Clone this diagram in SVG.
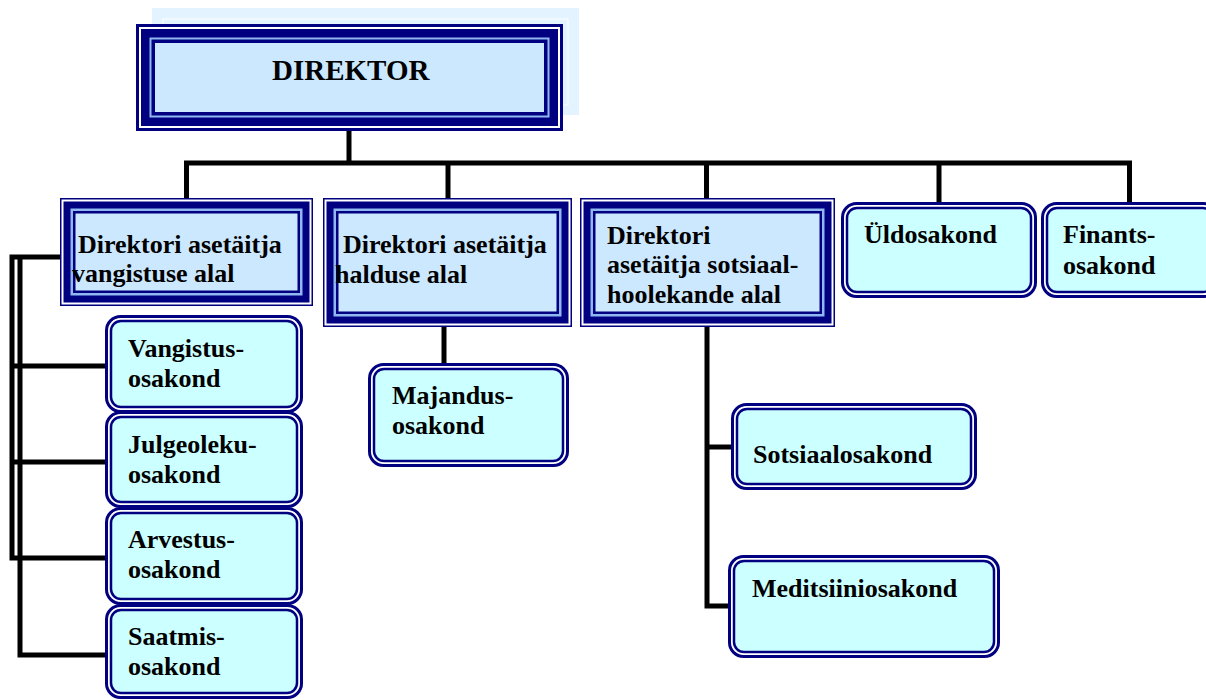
<svg xmlns="http://www.w3.org/2000/svg" width="1206" height="700" viewBox="0 0 1206 700">
<style>
.n{fill:#000080}.w{fill:#ffffff}.l{fill:#8fb8f0}.f{fill:#cce8ff}
.ro{fill:#ffffff;stroke:#000080;stroke-width:3}
.ri{fill:#ccffff;stroke:#000080;stroke-width:2.5}
.c{fill:none;stroke:#000000;stroke-width:5;stroke-linecap:butt;stroke-linejoin:miter}
text{font-family:"Liberation Serif","Times New Roman",serif;font-weight:bold;font-size:26px;fill:#000000}
</style>
<rect width="1206" height="700" fill="#ffffff"/>
<g id="connectors">
<path class="c" d="M349 130 V163"/>
<path class="c" d="M186.5 199 V163 H1129.5 V203"/>
<path class="c" d="M448 163 V199"/>
<path class="c" d="M706.5 163 V199"/>
<path class="c" d="M939 163 V203"/>
<path class="c" d="M444 326 V364"/>
<path class="c" d="M707 326 V606 H729"/>
<path class="c" d="M707 447 H732"/>
<path class="c" d="M61 257 H12 V558 H106"/>
<path class="c" d="M20 257 V655 H106"/>
<path class="c" d="M10 366 H106"/>
<path class="c" d="M10 462 H106"/>
</g>
<g id="director">
<rect x="152" y="8" width="427" height="107" fill="#e3f3ff"/>
<rect x="163" y="19" width="405" height="86" fill="none" stroke="#ffffff" stroke-width="1"/>
<rect class="n" x="136" y="24" width="427" height="107"/>
<rect class="w" x="139" y="27" width="421" height="101"/>
<rect class="n" x="141" y="29" width="417" height="97"/>
<rect class="l" x="149.5" y="37.5" width="400" height="80"/>
<rect class="n" x="151.5" y="39.5" width="396" height="76"/>
<rect class="f" x="155" y="43" width="389" height="69"/>
<text x="272" y="80" style="font-size:29px">DIREKTOR</text>
</g>
<g id="dep-vangistus">
<rect class="n" x="60" y="198" width="253" height="108"/>
<rect class="w" x="61.5" y="199.5" width="250" height="105"/>
<rect class="n" x="63.5" y="201.5" width="246" height="101"/>
<rect class="l" x="70.5" y="208.5" width="232" height="87"/>
<rect class="n" x="73" y="211" width="227" height="82"/>
<rect class="f" x="75.5" y="213.5" width="222" height="77"/>
<text x="78" y="253">Direktori asetäitja</text>
<text x="72" y="282">vangistuse alal</text>
</g>
<g id="dep-haldus">
<rect class="n" x="323" y="198" width="249" height="129"/>
<rect class="w" x="324.5" y="199.5" width="246" height="126"/>
<rect class="n" x="326.5" y="201.5" width="242" height="122"/>
<rect class="l" x="333.5" y="208.5" width="228" height="108"/>
<rect class="n" x="336" y="211" width="223" height="103"/>
<rect class="f" x="338.5" y="213.5" width="218" height="98"/>
<text x="343" y="253">Direktori asetäitja</text>
<text x="335" y="283">halduse alal</text>
</g>
<g id="dep-sotsiaal">
<rect class="n" x="580" y="198" width="255" height="129"/>
<rect class="w" x="581.5" y="199.5" width="252" height="126"/>
<rect class="n" x="583.5" y="201.5" width="248" height="122"/>
<rect class="l" x="590.5" y="208.5" width="234" height="108"/>
<rect class="n" x="593" y="211" width="229" height="103"/>
<rect class="f" x="595.5" y="213.5" width="224" height="98"/>
<text x="607" y="244">Direktori</text>
<text x="607" y="273">asetäitja sotsiaal-</text>
<text x="607" y="303">hoolekande alal</text>
</g>
<g id="yldosakond">
<rect class="ro" x="842.5" y="203.5" width="193" height="93" rx="14"/>
<rect class="ri" x="847" y="208" width="184" height="84" rx="10"/>
<text x="864" y="243">Üldosakond</text>
</g>
<g id="finantsosakond">
<rect class="ro" x="1042.5" y="203.5" width="175" height="93" rx="14"/>
<rect class="ri" x="1047" y="208" width="166" height="84" rx="10"/>
<text x="1063" y="243">Finants-</text>
<text x="1063" y="274">osakond</text>
</g>
<g id="majandusosakond">
<rect class="ro" x="369.5" y="364.5" width="198" height="101" rx="14"/>
<rect class="ri" x="374" y="369" width="189" height="92" rx="10"/>
<text x="392" y="404">Majandus-</text>
<text x="392" y="434">osakond</text>
</g>
<g id="sotsiaalosakond">
<rect class="ro" x="732.5" y="404.5" width="243" height="84" rx="14"/>
<rect class="ri" x="737" y="409" width="234" height="75" rx="10"/>
<text x="753" y="463">Sotsiaalosakond</text>
</g>
<g id="meditsiiniosakond">
<rect class="ro" x="729.5" y="556.5" width="269" height="100" rx="14"/>
<rect class="ri" x="734" y="561" width="260" height="91" rx="10"/>
<text x="752" y="597">Meditsiiniosakond</text>
</g>
<g id="vangistusosakond">
<rect class="ro" x="106.5" y="316.5" width="195" height="95" rx="14"/>
<rect class="ri" x="111" y="321" width="186" height="86" rx="10"/>
<text x="128" y="357">Vangistus-</text>
<text x="128" y="387">osakond</text>
</g>
<g id="julgeolekuosakond">
<rect class="ro" x="106.5" y="412.5" width="195" height="94" rx="14"/>
<rect class="ri" x="111" y="417" width="186" height="85" rx="10"/>
<text x="128" y="453">Julgeoleku-</text>
<text x="128" y="483">osakond</text>
</g>
<g id="arvestusosakond">
<rect class="ro" x="106.5" y="508.5" width="195" height="95" rx="14"/>
<rect class="ri" x="111" y="513" width="186" height="86" rx="10"/>
<text x="128" y="548">Arvestus-</text>
<text x="128" y="578">osakond</text>
</g>
<g id="saatmisosakond">
<rect class="ro" x="106.5" y="605.5" width="195" height="92" rx="14"/>
<rect class="ri" x="111" y="610" width="186" height="83" rx="10"/>
<text x="128" y="645">Saatmis-</text>
<text x="128" y="675">osakond</text>
</g>
</svg>
